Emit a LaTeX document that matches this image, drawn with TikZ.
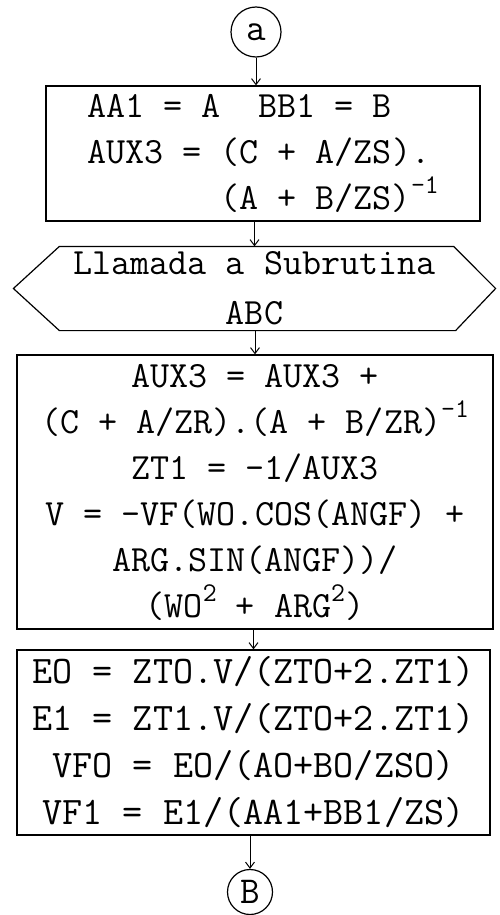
\documentclass[tikz,border=0pt]{standalone}
\usepackage{fontspec}
\usepackage{tikz}
\usetikzlibrary{arrows.meta, positioning}
\newcommand{\upidx}[1]{\raisebox{0.42em}{\fontsize{27}{27}\selectfont #1}}
\tikzstyle{proc} = [draw=black, line width=1.2pt, rectangle, inner sep=0pt, font=\fontsize{37}{46}\selectfont\ttfamily]
\tikzstyle{conn} = [draw=black, line width=1.2pt, circle, inner sep=0pt, font=\fontsize{38}{40}\selectfont\ttfamily]
\tikzstyle{arrow} = [line width=1pt, -{Straight Barb[length=6pt,width=9pt]}]

\begin{document}
\begin{tikzpicture}[x=1pt, y=-1pt]
    \useasboundingbox (0,0) rectangle (500,915);
    % connectors in and out
    \node[conn, minimum size=50pt] (ca) at (256,32) {a};
    \node[conn, minimum size=45pt] (cb) at (250,892) {B};
    % blocks
    \node[proc, minimum width=434pt, minimum height=135pt, align=left] (init) at (263,153.5)
        {AA1 = A~~BB1 = B\\AUX3 = (C + A/ZS).\\\phantom{AUX3~=~}(A + B/ZS)\upidx{-1}};
    \node[proc, draw=none, minimum width=481pt, minimum height=83pt, align=center,
          font=\fontsize{37}{50}\selectfont\ttfamily] (sub) at (254.5,288.5)
        {Llamada a Subrutina\\ABC};
    \draw[line width=1.2pt] (sub.west) -- ([xshift=46pt]sub.north west) -- ([xshift=-42pt]sub.north east)
        -- (sub.east) -- ([xshift=-40pt]sub.south east) -- ([xshift=46pt]sub.south west) -- cycle;
    \node[proc, minimum width=476pt, minimum height=274pt, align=center] (calc) at (255,492)
        {AUX3 = AUX3 +\\(C + A/ZR).(A + B/ZR)\upidx{-1}\\ZT1 = -1/AUX3\\V = -VF(WO.COS(ANGF) +\\ARG.SIN(ANGF))/\\(WO\upidx{2} + ARG\upidx{2})};
    \node[proc, minimum width=473pt, minimum height=185pt, align=center,
          font=\fontsize{39}{47}\selectfont\ttfamily] (res) at (253.5,742.5)
        {EO = ZTO.V/(ZTO+2.ZT1)\\E1 = ZT1.V/(ZTO+2.ZT1)\\VFO = EO/(AO+BO/ZSO)\\VF1 = E1/(AA1+BB1/ZS)};
    % flow
    \draw[arrow] (ca.south) -- (ca.south |- init.north);
    \foreach \a/\b in {init/sub, sub/calc, calc/res}
        \draw[arrow] (\a.south -| \b.north) -- (\b.north);
    \draw[arrow] (res.south -| cb.north) -- (cb.north);
\end{tikzpicture}
\end{document}
